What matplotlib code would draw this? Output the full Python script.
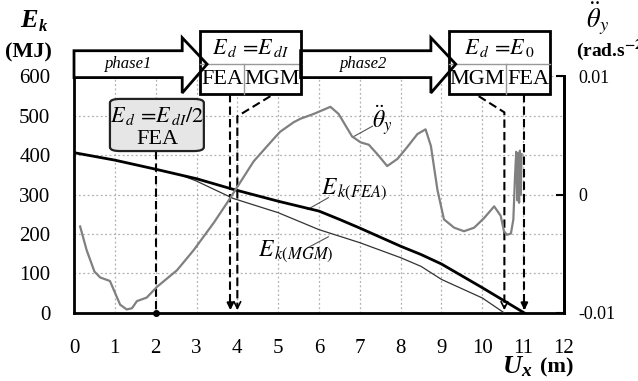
import numpy as np
import matplotlib.pyplot as plt
from matplotlib.patches import Polygon, Rectangle, FancyBboxPatch

plt.rcParams['font.family'] = ['Liberation Serif', 'DejaVu Serif']
plt.rcParams['mathtext.fontset'] = 'stix'

# kinetic energy, FEA model (MJ)
ux_fea = [0.05, 1.0, 2.0, 3.0, 3.9, 5.0, 6.0, 6.5, 7.0, 8.0, 8.5, 9.0, 10.0, 10.5, 11.03]
ek_fea = [405, 387, 364, 340, 313, 283, 258, 237, 215, 169, 148, 124, 64, 33, 0]

# kinetic energy, MGM model (MJ)
ux_mgm = [0.05, 1.0, 2.0, 2.6, 3.0, 3.9, 5.0, 6.0, 7.0, 8.0, 8.5, 9.0, 10.0, 10.54]
ek_mgm = [405, 387, 364, 350, 334, 290, 254, 211, 178, 140, 118, 85, 38, 0]

# rotational acceleration (1e-3 rad/s2)
ux_th = [0.15, 0.31, 0.50, 0.64, 0.88, 1.13, 1.29, 1.42, 1.54, 1.78, 2.03, 2.52,
         2.93, 3.42, 3.75, 4.4, 4.89, 5.05, 5.38, 5.55, 5.87, 6.28, 6.48, 6.81,
         7.02, 7.22, 7.43, 7.67, 7.92, 8.16, 8.41, 8.61, 8.74, 8.9, 9.06, 9.31,
         9.55, 9.8, 10.04, 10.29, 10.45, 10.53, 10.6, 10.7, 10.76, 10.8, 10.83,
         10.86, 10.88, 10.9, 10.92, 10.94, 10.96]
theta = [-2.7, -4.7, -6.5, -7.0, -7.3, -9.3, -9.7, -9.6, -9.0, -8.7, -7.8, -6.4,
         -4.7, -2.4, -0.7, 2.8, 4.7, 5.3, 6.1, 6.4, 6.8, 7.4, 6.8, 4.9,
         4.4, 4.2, 3.4, 2.4, 3.0, 4.0, 5.1, 5.5, 4.1, 0.4, -2.1, -2.8,
         -3.1, -2.8, -2.0, -1.0, -1.8, -3.1, -3.4, -3.3, -2.1, 1.5, 3.6,
         -0.5, 3.5, -0.7, 3.7, 0.0, 3.4]

xticks = list(range(0, 13))
yticks = [0, 100, 200, 300, 400, 500, 600]
rticks = [-0.01, 0, 0.01]
rlabels = ['-0.01', '0', '0.01']

fig = plt.figure(figsize=(6.38, 3.81), dpi=100)
ax = fig.add_axes([0.116, 0.1785, 0.768, 0.622])
ax.set_xlim(0, 12)
ax.set_ylim(0, 600)
ax.set_xticks(xticks)
ax.set_yticks(yticks)
ax.tick_params(axis='both', length=0, labelsize=15)
ax.tick_params(axis='y', pad=17)
ax.tick_params(axis='x', pad=19)
ax.grid(True, color='#b0b0b0', linestyle=(0, (1.5, 2)), linewidth=0.9)
for s in ['left', 'bottom', 'right']:
    ax.spines[s].set_linewidth(2)
ax.spines['top'].set_visible(False)

ax2 = ax.twinx()
ax2.set_ylim(-0.01, 0.01)
ax2.set_yticks(rticks)
ax2.set_yticklabels(rlabels)
ax2.tick_params(axis='y', direction='in', length=6, width=1.5, labelsize=13, pad=10)
ax2.spines['right'].set_linewidth(2)
ax2.spines['top'].set_visible(False)
ax2.spines['left'].set_visible(False)
ax2.spines['bottom'].set_visible(False)

ax2.plot(ux_th, np.array(theta) * 1e-3, color='#808080', lw=1.6, zorder=3)
ax.plot(ux_mgm, ek_mgm, color='#333333', lw=0.9, zorder=3)
ax.plot(ux_fea, ek_fea, color='black', lw=2.0, zorder=4)

# phase arrows and decision boxes (drawn in the energy axis frame)
def arrow(x0, xh, xt):
    pts = [(x0, 664), (xh, 664), (xh, 697), (xt, 630), (xh, 557), (xh, 596), (x0, 596)]
    ax.add_patch(Polygon(pts, closed=True, fc='white', ec='none', zorder=5, clip_on=False))
    ax.add_patch(Polygon(pts, closed=True, fc='none', ec='black', lw=2, zorder=8,
                         clip_on=False, joinstyle='miter'))

def box(x0, x1, xs, top, left, right):
    ax.add_patch(Rectangle((x0, 554), x1 - x0, 160, fc='white', ec='black', lw=2,
                           zorder=6, clip_on=False))
    ax.plot([x0, x1], [631, 631], color='#999999', lw=1, zorder=7, clip_on=False)
    ax.plot([xs, xs], [554, 631], color='#999999', lw=1, zorder=7, clip_on=False)
    ax.text((x0 + x1) / 2, 672, top, ha='center', va='center', fontsize=16, zorder=9)
    ax.text((x0 + xs) / 2, 590, left, ha='center', va='center', fontsize=16, zorder=9)
    ax.text((xs + x1) / 2, 590, right, ha='center', va='center', fontsize=16, zorder=9)

arrow(0, 2.65, 3.26)
arrow(5.55, 8.74, 9.35)
box(3.09, 5.55, 4.17, r'$E_{\,d}\,=\!E_{\,dI}$', 'FEA', 'MGM')
box(9.18, 11.66, 10.58, r'$E_{\,d}\,=\!E_{\,0}$', 'MGM', 'FEA')
ax.text(1.35, 630, 'phase1', style='italic', fontsize=12, ha='center', va='center', zorder=9)
ax.text(7.1, 630, 'phase2', style='italic', fontsize=12, ha='center', va='center', zorder=9)

# half-energy box
ax.add_patch(FancyBboxPatch((0.88, 410), 2.3, 132, boxstyle='round,pad=0,rounding_size=0.25',
                            mutation_aspect=40, fc='#e6e6e6', ec='#222222', lw=1.6, zorder=6))
ax.text(2.04, 500, r'$E_{\,d}\,=\!E_{\,dI}/2$', ha='center', va='center', fontsize=16, zorder=7)
ax.text(2.04, 438, 'FEA', ha='center', va='center', fontsize=16, zorder=7)

# dashed guide lines
dash = dict(color='black', lw=1.5, linestyle=(0, (4, 2)), zorder=5, clip_on=False)
ax.plot([2, 2], [409, 0], **dash)
ax.plot([2], [0], 'o', color='black', ms=4, zorder=6, clip_on=False)
ax.plot([3.83, 3.83], [554, 14], **dash)
ax.plot([4.81, 4.0, 4.0], [549, 498, 14], **dash)
ax.plot([9.91, 10.54, 10.54], [549, 508, 14], **dash)
ax.plot([11.03, 11.03], [554, 14], **dash)
ax.annotate('', xy=(3.83, 0), xytext=(3.83, 25),
            arrowprops=dict(arrowstyle='-|>', color='black', lw=1.5, mutation_scale=10), zorder=6)
ax.annotate('', xy=(4.0, 0), xytext=(4.0, 25),
            arrowprops=dict(arrowstyle='->', color='black', lw=1.2, mutation_scale=12), zorder=6)
ax.annotate('', xy=(10.54, 0), xytext=(10.54, 25),
            arrowprops=dict(arrowstyle='->', color='black', lw=1.2, mutation_scale=12), zorder=6)
ax.annotate('', xy=(11.03, 0), xytext=(11.03, 25),
            arrowprops=dict(arrowstyle='-|>', color='black', lw=1.5, mutation_scale=10), zorder=6)

# curve labels
ax.plot([6.82, 7.31], [445, 473], color='#555555', lw=0.8)
ax.text(7.55, 488, r'$\ddot{\theta}_{y}$', fontsize=17, ha='center', va='center')
ax.plot([5.72, 6.23], [262, 292], color='#555555', lw=0.8)
ax.text(6.85, 313, r'$E_{\,k(FEA)}$', fontsize=17, ha='center', va='center')
ax.plot([5.72, 6.23], [165, 193], color='#555555', lw=0.8)
ax.text(5.42, 157, r'$E_{\,k(MGM)}$', fontsize=17, ha='center', va='center')

# axis titles
fig.text(0.045, 0.945, 'E', fontsize=19, weight='bold', style='italic', ha='center', va='center')
fig.text(0.068, 0.93, 'k', fontsize=12, weight='bold', style='italic', ha='center', va='center')
fig.text(0.045, 0.862, '(MJ)', fontsize=16, weight='bold', ha='center', va='center')
fig.text(0.937, 0.95, r'$\ddot{\theta}_{y}$', fontsize=19, ha='center', va='center')
fig.text(0.903, 0.868, r'(rad.s$^{\mathbf{-2}}$)', fontsize=14, weight='bold', ha='left', va='center')
fig.text(0.803, 0.038, 'U', fontsize=19, weight='bold', style='italic', ha='center', va='center')
fig.text(0.824, 0.026, 'x', fontsize=14, weight='bold', style='italic', ha='center', va='center')
fig.text(0.872, 0.035, '(m)', fontsize=16, weight='bold', ha='center', va='center')

fig.savefig('out.png', dpi=100)
